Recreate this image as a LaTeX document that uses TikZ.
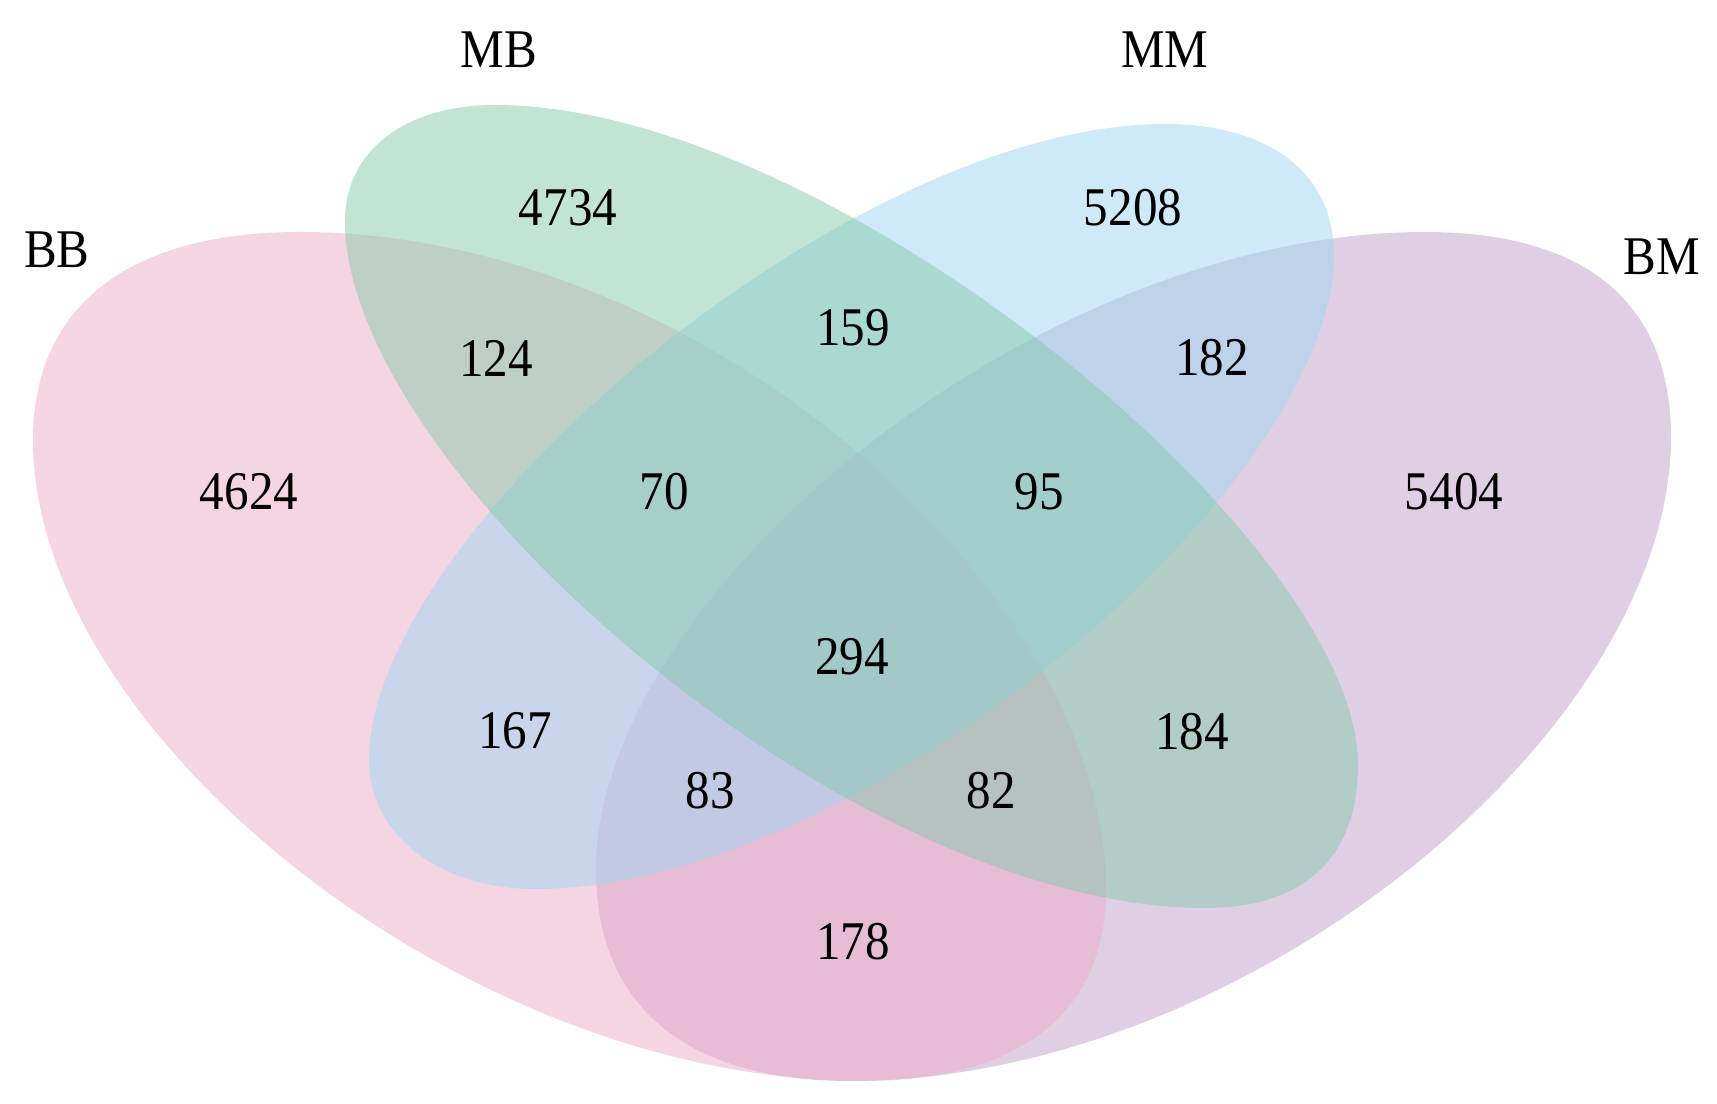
\documentclass[tikz,border=0pt]{standalone}
\usepackage{fontspec}
\setmainfont{Liberation Serif}[FakeStretch=0.9]
\definecolor{cBB}{RGB}{237,171,199}
\definecolor{cMB}{RGB}{133,201,171}
\definecolor{cMM}{RGB}{157,213,241}
\definecolor{cBM}{RGB}{193,159,201}
\tikzset{
  setshape/.style={fill=#1, fill opacity=0.5, draw=none},
  num/.style={font=\fontsize{15.5}{18}\selectfont, inner sep=0pt},
  setname/.style={font=\fontsize{15.5}{18}\selectfont, inner sep=0pt}
}
\begin{document}
\begin{tikzpicture}[x=0.01cm, y=-0.01cm]
\useasboundingbox (0,0) rectangle (1717,1104);
% BM (purple)
\fill[setshape=cBM] (596,870) .. controls (596,595) and (1035,232) .. (1425,232)
  .. controls (1585,232) and (1671,302) .. (1671,437)
  .. controls (1671,732) and (1245,1081) .. (850,1081)
  .. controls (685,1081) and (596,1005) .. (596,870) -- cycle;
% BB (pink)
\fill[setshape=cBB] (33,440) .. controls (33,305) and (130,232) .. (300,232)
  .. controls (700,232) and (1106,590) .. (1106,890)
  .. controls (1106,1015) and (1017,1081) .. (862,1081)
  .. controls (467,1081) and (33,735) .. (33,440) -- cycle;
% MM (blue)
\fill[setshape=cMM] (369,760) .. controls (369,531) and (850,124) .. (1165,124)
  .. controls (1265,124) and (1334,170) .. (1334,255)
  .. controls (1334,487) and (862,889) .. (535,889)
  .. controls (440,889) and (369,835) .. (369,760) -- cycle;
% MB (green)
\fill[setshape=cMB] (345,221) .. controls (345,151) and (405,105) .. (495,105)
  .. controls (830,105) and (1358,540) .. (1358,765)
  .. controls (1358,857) and (1305,908) .. (1205,908)
  .. controls (850,908) and (345,471) .. (345,221) -- cycle;
% set names
\node[setname] (nBB) at (57,250) {BB};
\node[setname] (nMB) at (499,50) {MB};
\node[setname] (nMM) at (1165,50) {MM};
\node[setname] (nBM) at (1662,257) {BM};
% counts
\node[num] (r4734) at (568,208) {4734};
\node[num] (r5208) at (1133,208) {5208};
\node[num] (r124) at (496,358) {124};
\node[num] (r159) at (853,328) {159};
\node[num] (r182) at (1212,358) {182};
\node[num] (r4624) at (249,492) {4624};
\node[num] (r70) at (664,492) {70};
\node[num] (r95) at (1039,492) {95};
\node[num] (r5404) at (1454,492) {5404};
\node[num] (r294) at (852,657) {294};
\node[num] (r167) at (515,731) {167};
\node[num] (r184) at (1192,732) {184};
\node[num] (r83) at (710,791) {83};
\node[num] (r82) at (991,791) {82};
\node[num] (r178) at (853,942) {178};
\end{tikzpicture}
\end{document}
